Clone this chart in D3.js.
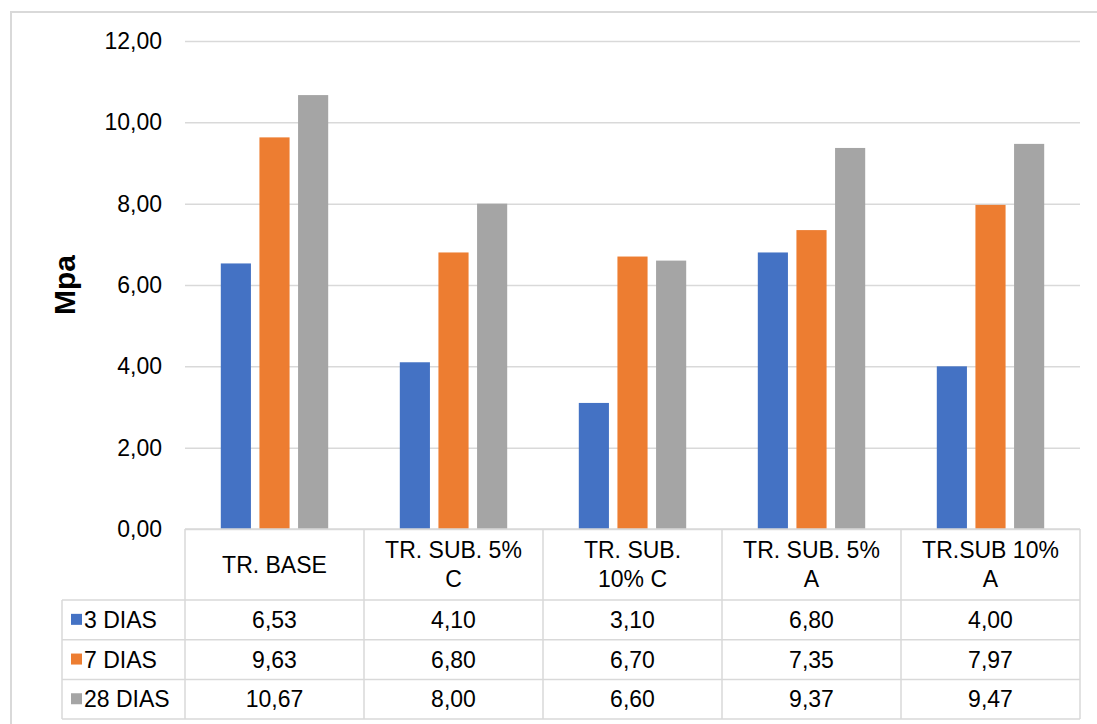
<!DOCTYPE html>
<html>
<head>
<meta charset="utf-8">
<script src="https://cdn.jsdelivr.net/npm/d3@7"></script>
<style>
  html, body { margin: 0; padding: 0; background: #fff; }
  svg { display: block; font-family: "Liberation Sans", Arial, sans-serif; }
</style>
</head>
<body>
<svg id="chart" width="1097" height="724"></svg>
<script>
// Compressive strength (Mpa) by mix and curing age
const categories = [["TR. BASE"], ["TR. SUB. 5%", "C"], ["TR. SUB.", "10% C"], ["TR. SUB. 5%", "A"], ["TR.SUB 10%", "A"]];
const seriesNames = ["3 DIAS", "7 DIAS", "28 DIAS"];
const dias3 = [6.53, 4.10, 3.10, 6.80, 4.00];
const dias7 = [9.63, 6.80, 6.70, 7.35, 7.97];
const dias28 = [10.67, 8.00, 6.60, 9.37, 9.47];
const yTicks = [0, 2, 4, 6, 8, 10, 12];
const colors = ["#4472C4", "#ED7D31", "#A5A5A5"];

const seriesValues = [dias3, dias7, dias28];
const fmt = v => d3.format(".2f")(v).replace(".", ",");

const svg = d3.select("#chart");
const plot = { left: 185, right: 1080, top: 41, bottom: 529 };
const tableLeft = 62;
const headerBottom = 600;
const rowH = 39.7;
const grid = "#d9d9d9";

// outer chart frame
svg.append("rect")
  .attr("x", 11).attr("y", 12).attr("width", 1100).attr("height", 720)
  .attr("fill", "none").attr("stroke", "#d9d9d9").attr("stroke-width", 2);

const x0 = d3.scaleBand().domain(d3.range(categories.length)).range([plot.left, plot.right]);
const bw = x0.bandwidth();
const x1 = d3.scaleBand().domain(d3.range(seriesNames.length))
  .range([bw * 0.2, bw * 0.8]).paddingInner(0.22);
const y = d3.scaleLinear().domain([0, 12]).range([plot.bottom, plot.top]);

// gridlines and tick labels
const yAxis = d3.axisLeft(y).tickValues(yTicks).tickFormat(fmt)
  .tickSize(-(plot.right - plot.left)).tickPadding(23);
const ga = svg.append("g").attr("transform", `translate(${plot.left},0)`).call(yAxis);
ga.select(".domain").remove();
ga.selectAll(".tick line").attr("stroke", grid).attr("stroke-width", 1.5);
ga.selectAll(".tick text").attr("fill", "#000").style("font-size", "23px")
  .style("font-family", "'Liberation Sans', Arial, sans-serif");

// bars
const groups = svg.append("g").selectAll("g")
  .data(categories.map((c, i) => i))
  .join("g").attr("transform", i => `translate(${x0(i)},0)`);
groups.selectAll("rect")
  .data(i => seriesValues.map((s, k) => ({ k, v: s[i] })))
  .join("rect")
  .attr("x", d => x1(d.k))
  .attr("width", x1.bandwidth())
  .attr("y", d => y(d.v))
  .attr("height", d => y(0) - y(d.v))
  .attr("fill", d => colors[d.k]);

// axis title
svg.append("text")
  .attr("transform", "translate(75,285) rotate(-90)")
  .attr("text-anchor", "middle")
  .style("font-size", "30px").style("font-weight", "bold")
  .text("Mpa");

// data table
const tbl = svg.append("g");
const tableBottom = headerBottom + rowH * seriesNames.length;
const line = (x1_, y1_, x2_, y2_) => tbl.append("line")
  .attr("x1", x1_).attr("y1", y1_).attr("x2", x2_).attr("y2", y2_)
  .attr("stroke", grid).attr("stroke-width", 1.5);

line(plot.left, plot.bottom, plot.right, plot.bottom);
for (let r = 0; r <= seriesNames.length; r++) {
  const yy = headerBottom + r * rowH;
  line(tableLeft, yy, plot.right, yy);
}
line(tableLeft, headerBottom, tableLeft, tableBottom);
for (let c = 0; c <= categories.length; c++) {
  const xx = c < categories.length ? x0(c) : plot.right;
  line(xx, plot.bottom, xx, tableBottom);
}

// header labels
categories.forEach((lines, i) => {
  const cx = x0(i) + bw / 2;
  const mid = (plot.bottom + headerBottom) / 2;
  const lh = 29;
  const t = tbl.append("text").attr("text-anchor", "middle").style("font-size", "23px");
  lines.forEach((ln, j) => {
    t.append("tspan").attr("x", cx)
      .attr("y", mid + 8 + (j - (lines.length - 1) / 2) * lh)
      .text(ln);
  });
});

// rows: legend key + values
seriesNames.forEach((name, k) => {
  const cy = headerBottom + rowH * (k + 0.5);
  tbl.append("rect").attr("x", 71).attr("y", cy - 6).attr("width", 11).attr("height", 11)
    .attr("fill", colors[k]);
  tbl.append("text").attr("x", 84).attr("y", cy + 8).style("font-size", "23px").text(name);
  seriesValues[k].forEach((v, i) => {
    tbl.append("text").attr("x", x0(i) + bw / 2).attr("y", cy + 8)
      .attr("text-anchor", "middle").style("font-size", "23px").text(fmt(v));
  });
});
</script>
</body>
</html>
